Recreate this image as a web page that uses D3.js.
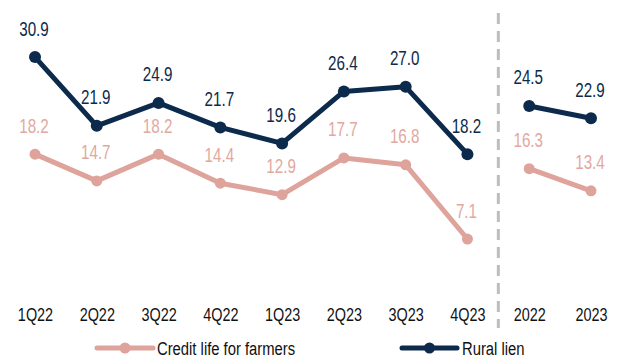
<!DOCTYPE html>
<html>
<head>
<meta charset="utf-8">
<script src="https://cdn.jsdelivr.net/npm/d3@7/dist/d3.min.js"></script>
<style>
  html, body { margin: 0; padding: 0; background: #fff; }
  svg { display: block; font-family: "Liberation Sans", Arial, sans-serif; }
</style>
</head>
<body>
<svg id="chart" width="619" height="362"></svg>
<script>
// Periods: eight quarters followed by two full years
const periods = ["1Q22", "2Q22", "3Q22", "4Q22", "1Q23", "2Q23", "3Q23", "4Q23", "2022", "2023"];
const quarterly = periods.slice(0, 8);
const annual = periods.slice(8);

const ruralLien = [30.9, 21.9, 24.9, 21.7, 19.6, 26.4, 27.0, 18.2, 24.5, 22.9];
const creditLife = [18.2, 14.7, 18.2, 14.4, 12.9, 17.7, 16.8, 7.1, 16.3, 13.4];

const seriesNames = ["Credit life for farmers", "Rural lien"];

const NAVY = "#0c2a4b";
const PINK = "#dea39b";
const PINK_TEXT = "#e2a8a0";
const SQUEEZE = "scale(0.78,1)";

const svg = d3.select("#chart");

const x = d3.scalePoint().domain(periods).range([35, 591]);
const y = d3.scaleLinear().domain([0, 35]).range([293.3, 25.7]);

const series = [
  { name: seriesNames[1], values: ruralLien, color: NAVY, text: NAVY, r: 6 },
  { name: seriesNames[0], values: creditLife, color: PINK, text: PINK_TEXT, r: 5.5 }
];

// Divider between quarterly and annual figures
const divX = (x("4Q23") + x("2022")) / 2;
svg.append("line")
  .attr("x1", divX).attr("x2", divX)
  .attr("y1", 13).attr("y2", 328)
  .attr("stroke", "#bdbdbd")
  .attr("stroke-width", 3)
  .attr("stroke-dasharray", "11 7");

// X axis labels
const axis = svg.append("g")
  .call(d3.axisBottom(x).tickSize(0).tickPadding(0));
axis.select(".domain").remove();
axis.selectAll(".tick text")
  .attr("y", 321)
  .attr("dy", 0)
  .attr("transform", SQUEEZE)
  .attr("fill", "#111")
  .style("font-size", "18.5px")
  .style("font-family", "'Liberation Sans', Arial, sans-serif");

const line = d3.line()
  .x(d => x(d.p))
  .y(d => y(d.v));

// Pink series first so the navy series sits above it
[series[1], series[0]].forEach(s => {
  const pts = periods.map((p, i) => ({ p, v: s.values[i] }));
  const segments = [
    pts.filter(d => quarterly.includes(d.p)),
    pts.filter(d => annual.includes(d.p))
  ];
  const g = svg.append("g");
  segments.forEach(seg => {
    g.append("path")
      .datum(seg)
      .attr("d", line)
      .attr("fill", "none")
      .attr("stroke", s.color)
      .attr("stroke-width", 5)
      .attr("stroke-linejoin", "round");
  });
  g.selectAll("circle")
    .data(pts)
    .join("circle")
    .attr("cx", d => x(d.p))
    .attr("cy", d => y(d.v))
    .attr("r", s.r)
    .attr("fill", s.color);
  g.selectAll("text")
    .data(pts)
    .join("text")
    .attr("transform", d => `translate(${x(d.p) - 1},${y(d.v) - 21.5}) ${SQUEEZE}`)
    .attr("text-anchor", "middle")
    .attr("fill", s.text)
    .style("font-size", "19.5px")
    .text(d => d.v.toFixed(1));
});

// Legend
const legendItems = [
  { name: seriesNames[0], color: PINK, x0: 97, x1: 153, tx: 157 },
  { name: seriesNames[1], color: NAVY, x0: 402, x1: 457, tx: 462 }
];
const legend = svg.append("g");
legendItems.forEach(it => {
  const ly = 348;
  legend.append("line")
    .attr("x1", it.x0).attr("x2", it.x1)
    .attr("y1", ly).attr("y2", ly)
    .attr("stroke", it.color)
    .attr("stroke-width", 5)
    .attr("stroke-linecap", "round");
  legend.append("circle")
    .attr("cx", (it.x0 + it.x1) / 2)
    .attr("cy", ly)
    .attr("r", 5.5)
    .attr("fill", it.color);
  legend.append("text")
    .attr("transform", `translate(${it.tx},355) ${SQUEEZE}`)
    .attr("fill", "#111")
    .style("font-size", "19px")
    .text(it.name);
});
</script>
</body>
</html>
